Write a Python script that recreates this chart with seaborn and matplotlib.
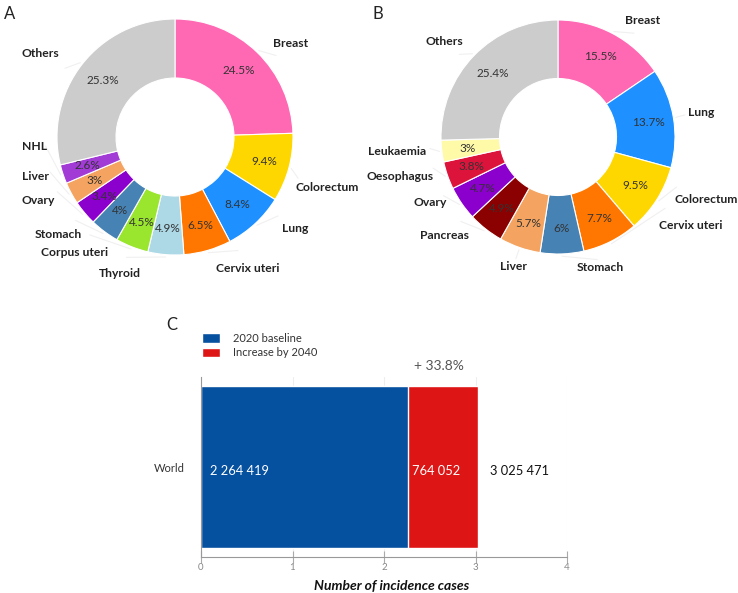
import numpy as np
import pandas as pd
import matplotlib
matplotlib.use("Agg")
import matplotlib.pyplot as plt
import seaborn as sns

# ---------------- data ----------------
a_labels = ["Breast", "Colorectum", "Lung", "Cervix uteri", "Thyroid", "Corpus uteri",
            "Stomach", "Ovary", "Liver", "NHL", "Others"]
a_values = [24.5, 9.4, 8.4, 6.5, 4.9, 4.5, 4.0, 3.4, 3.0, 2.6, 28.8]
a_pct = ["24.5%", "9.4%", "8.4%", "6.5%", "4.9%", "4.5%", "4%", "3.4%", "3%", "2.6%", "25.3%"]

b_labels = ["Breast", "Lung", "Colorectum", "Cervix uteri", "Stomach", "Liver",
            "Pancreas", "Ovary", "Oesophagus", "Leukaemia", "Others"]
b_values = [15.5, 13.7, 9.5, 7.7, 6.0, 5.7, 4.9, 4.7, 3.8, 3.0, 25.4]
b_pct = ["15.5%", "13.7%", "9.5%", "7.7%", "6%", "5.7%", "4.9%", "4.7%", "3.8%", "3%", "25.4%"]

c_region = ["World"]
c_baseline = [2264419]
c_increase = [764052]
c_total_text = ["3 025 471"]
c_base_text = ["2 264 419"]
c_inc_text = ["764 052"]
c_change_text = ["+ 33.8%"]
c_series = ["2020 baseline", "Increase by 2040"]

# ---------------- style ----------------
a_colors = ["#FF69B4", "#FFD700", "#1E90FF", "#FF7700", "#ADD8E6", "#9AE52E",
            "#4682B4", "#8B00CC", "#F4A460", "#A23BD6", "#CCCCCC"]
b_colors = ["#FF69B4", "#1E90FF", "#FFD700", "#FF7700", "#4682B4", "#F4A460",
            "#8B0000", "#8B00CC", "#DC143C", "#FFFAA8", "#CCCCCC"]
# label placement: angular nudge (deg) and radius (in units of outer radius)
a_nudge = [-7, -3.4, 9.7, 13, -17.5, -19.6, -13.3, -15, -12.8, -14.4, 6.2]
a_rad = [1.26, 1.36, 1.28, 1.27, 1.25, 1.30, 1.29, 1.28, 1.23, 1.19, 1.34]
b_nudge = [-8.3, 0.4, 9.5, 29.7, 15.8, 0, -10.8, -7.4, -5.2, -1.8, 4.3]
b_rad = [1.23, 1.24, 1.37, 1.36, 1.17, 1.17, 1.28, 1.23, 1.39, 1.38, 1.27]

sns.set_theme(style="white")
plt.rcParams["font.family"] = ["Lato", "DejaVu Sans"]

W, H = 738, 593
fig = plt.figure(figsize=(W / 100, H / 100), dpi=100)


def px_axes(x0, y0, x1, y1):
    """axes from pixel box (top-left origin)."""
    return fig.add_axes([x0 / W, 1 - y1 / H, (x1 - x0) / W, (y1 - y0) / H])


def donut(box, cx, cy, R, values, labels, pcts, colors, nudge, rad):
    x0, y0, x1, y1 = box
    ax = px_axes(x0, y0, x1, y1)
    wedges, _ = ax.pie(values, colors=colors, startangle=90, counterclock=False,
                       radius=1, wedgeprops=dict(width=0.5, edgecolor="white", linewidth=0.8))
    ax.set_aspect("auto")
    ax.set_xlim((x0 - cx) / R, (x1 - cx) / R)
    ax.set_ylim((cy - y1) / R, (cy - y0) / R)
    ax.axis("off")
    for w, lab, pct, dn, r in zip(wedges, labels, pcts, nudge, rad):
        mid = np.deg2rad((w.theta1 + w.theta2) / 2)
        ax.text(0.78 * np.cos(mid), 0.78 * np.sin(mid), pct, ha="center", va="center",
                fontsize=8.5, color="#333333")
        la = mid + np.deg2rad(dn)
        ax.plot([1.02 * np.cos(mid), 1.10 * np.cos(la)], [1.02 * np.sin(mid), 1.10 * np.sin(la)],
                color="#f0f0f0", lw=0.8, clip_on=False)
        ax.text(r * np.cos(la), r * np.sin(la), lab, ha="center", va="center",
                fontsize=8.7, fontweight="bold", color="#222222", clip_on=False)
    return ax


donut((0, 0, 369, 290), 175, 137, 118, a_values, a_labels, a_pct, a_colors, a_nudge, a_rad)
donut((369, 0, 738, 290), 558, 137, 117, b_values, b_labels, b_pct, b_colors, b_nudge, b_rad)

fig.text(4 / W, 1 - 14 / H, "A", fontsize=12, va="center", ha="left", color="#222222")
fig.text(372 / W, 1 - 14 / H, "B", fontsize=12, va="center", ha="left", color="#222222")
fig.text(166 / W, 1 - 325 / H, "C", fontsize=12, va="center", ha="left", color="#222222")

# ---------------- panel C ----------------
axc = px_axes(201, 377, 567, 557)
df = pd.DataFrame({"region": c_region,
                   "baseline": np.array(c_baseline) / 1e6,
                   "total": (np.array(c_baseline) + np.array(c_increase)) / 1e6})
blue, red = "#0650A0", "#DE1515"
sns.barplot(data=df, y="region", x="total", color=red, orient="h", width=0.9,
            saturation=1, ax=axc, label=c_series[1])
sns.barplot(data=df, y="region", x="baseline", color=blue, orient="h", width=0.9,
            saturation=1, ax=axc, label=c_series[0])
axc.set_xlim(0, 4)
axc.set_ylim(0.5, -0.5)
axc.set_xticks([0, 1, 2, 3, 4])
axc.xaxis.grid(True, color="#eeeeee", lw=0.8)
axc.set_axisbelow(True)
for s in ["top", "right"]:
    axc.spines[s].set_visible(False)
axc.spines["bottom"].set_color("#999999")
axc.spines["left"].set_color("#999999")
axc.spines["bottom"].set_linewidth(0.8)
axc.spines["left"].set_linewidth(0.8)
axc.tick_params(axis="x", direction="inout", length=8, width=0.8, color="#aaaaaa",
                labelsize=7, labelcolor="#888888", pad=0, bottom=True)
axc.tick_params(axis="y", length=0, labelsize=8, labelcolor="#333333", pad=12)
axc.set_ylabel("")
axc.set_xlabel("Number of incidence cases", fontsize=10, fontweight="bold",
               fontstyle="italic", color="#111111")
axc.xaxis.label.set_va("center")
axc.xaxis.set_label_coords(0.52, -0.16)

for i in range(len(c_region)):
    b = df["baseline"][i]
    t = df["total"][i]
    axc.text(0.1, i + 0.02, c_base_text[i], color="white", fontsize=9.3, va="center", ha="left")
    axc.text(b + 0.04, i + 0.02, c_inc_text[i], color="white", fontsize=9.3, va="center", ha="left")
    axc.text(t + 0.13, i + 0.02, c_total_text[i], color="#111111", fontsize=9.3, va="center", ha="left")
    axc.text((b + t) / 2 - 0.05, -0.56, c_change_text[i], color="#555555", fontsize=10,
             va="center", ha="center", clip_on=False)

handles, labels = axc.get_legend_handles_labels()
order = [labels.index(c_series[0]), labels.index(c_series[1])]
axc.legend([handles[k] for k in order], [labels[k] for k in order],
           loc="upper left", bbox_to_anchor=(-0.01, 1.27), frameon=False, fontsize=8,
           handlelength=1.6, handleheight=0.9, labelcolor="#333333", borderaxespad=0,
           labelspacing=0.3, handletextpad=1.2)

fig.savefig("out.png", dpi=100)
